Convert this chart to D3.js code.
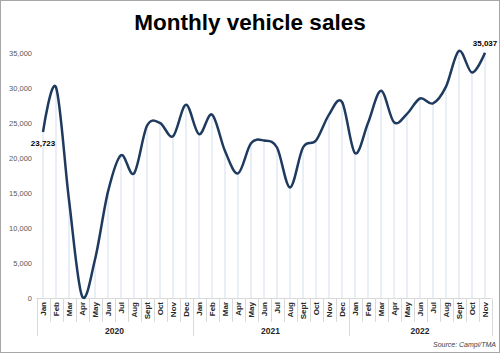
<!DOCTYPE html>
<html>
<head>
<meta charset="utf-8">
<script src="https://cdn.jsdelivr.net/npm/d3@7"></script>
<style>
  body { margin: 0; background: #fff; }
  svg { display: block; font-family: Arial, "Liberation Sans", sans-serif; }
</style>
</head>
<body>
<div id="chart"></div>
<script>
// data
var months = ['Jan', 'Feb', 'Mar', 'Apr', 'May', 'Jun', 'Jul', 'Aug', 'Sept', 'Oct', 'Nov', 'Dec',
  'Jan', 'Feb', 'Mar', 'Apr', 'May', 'Jun', 'Jul', 'Aug', 'Sept', 'Oct', 'Nov', 'Dec',
  'Jan', 'Feb', 'Mar', 'Apr', 'May', 'Jun', 'Jul', 'Aug', 'Sept', 'Oct', 'Nov'];
var sales = [23723, 30100, 14000, 300, 5500, 15200, 20400, 17800, 24600, 25000, 23100, 27600,
  23400, 26200, 21000, 17800, 22100, 22500, 21500, 15800, 21500, 22500, 26200, 28000,
  20700, 25000, 29600, 25100, 26300, 28500, 27800, 30200, 35300, 32200, 35037];
var years = ['2020', '2021', '2022'];
var monthsPerYear = [12, 12, 11];
var yTicks = [0, 5000, 10000, 15000, 20000, 25000, 30000, 35000];

var width = 500, height = 353;

var svg = d3.select('#chart').append('svg')
  .attr('width', width)
  .attr('height', height);

// outer frame
svg.append('rect')
  .attr('x', 0.5).attr('y', 0.5)
  .attr('width', width - 1).attr('height', height - 1)
  .attr('fill', '#fff')
  .attr('stroke', '#a6a6a6');

svg.append('text')
  .attr('x', 250).attr('y', 30)
  .attr('text-anchor', 'middle')
  .style('font-size', '22.5px')
  .style('font-weight', 'bold')
  .text('Monthly vehicle sales');

var x = d3.scaleBand()
  .domain(d3.range(months.length))
  .range([36.5, 491.5])
  .padding(0);

var y = d3.scaleLinear()
  .domain([0, 35000])
  .range([298, 53]);

function cx(i) { return x(i) + x.bandwidth() / 2; }

// y axis, labels only
var yAxis = svg.append('g')
  .attr('transform', 'translate(32,0)')
  .call(d3.axisLeft(y).tickValues(yTicks).tickFormat(d3.format(',')).tickSize(0).tickPadding(0));
yAxis.select('.domain').remove();
yAxis.selectAll('text')
  .style('font-family', 'Arial, "Liberation Sans", sans-serif')
  .style('font-size', '7.5px')
  .attr('fill', '#595959');

// drop lines
svg.append('g').selectAll('line')
  .data(sales)
  .join('line')
  .attr('x1', function(d, i) { return cx(i); })
  .attr('x2', function(d, i) { return cx(i); })
  .attr('y1', function(d) { return y(d); })
  .attr('y2', y(0))
  .attr('stroke', '#d3dfeb')
  .attr('stroke-width', 1);

// category axis box
var axisG = svg.append('g');
axisG.append('line')
  .attr('x1', 36.5).attr('x2', 491.5)
  .attr('y1', 298.5).attr('y2', 298.5)
  .attr('stroke', '#d9d9d9');

var bounds = d3.range(months.length + 1).map(function(i) {
  return i < months.length ? x(i) : x(i - 1) + x.bandwidth();
});
var yearStarts = [0];
monthsPerYear.reduce(function(acc, n) { yearStarts.push(acc + n); return acc + n; }, 0);

axisG.selectAll('.sep')
  .data(bounds)
  .join('line')
  .attr('class', 'sep')
  .attr('x1', function(d) { return Math.round(d) + 0.5; })
  .attr('x2', function(d) { return Math.round(d) + 0.5; })
  .attr('y1', 298.5)
  .attr('y2', function(d, i) { return yearStarts.indexOf(i) >= 0 ? 336 : 322; })
  .attr('stroke', '#d9d9d9');

var xAxis = axisG.append('g')
  .attr('transform', 'translate(0,302)')
  .call(d3.axisBottom(x).tickFormat(function(i) { return months[i]; }).tickSize(0).tickPadding(0));
xAxis.select('.domain').remove();
xAxis.selectAll('text')
  .attr('transform', 'rotate(-90)')
  .attr('x', 0)
  .attr('y', 0)
  .attr('dy', '0.35em')
  .attr('text-anchor', 'end')
  .style('font-family', 'Arial, "Liberation Sans", sans-serif')
  .style('font-size', '8px')
  .style('font-weight', 'bold')
  .attr('fill', '#262626');

axisG.selectAll('.year')
  .data(years)
  .join('text')
  .attr('class', 'year')
  .attr('x', function(d, i) {
    return (bounds[yearStarts[i]] + bounds[yearStarts[i + 1]]) / 2;
  })
  .attr('y', 334)
  .attr('text-anchor', 'middle')
  .style('font-size', '8.5px')
  .style('font-weight', 'bold')
  .attr('fill', '#262626')
  .text(function(d) { return d; });

// line
var line = d3.line()
  .x(function(d, i) { return cx(i); })
  .y(function(d) { return y(d); })
  .curve(d3.curveCardinal.tension(0));

svg.append('path')
  .datum(sales)
  .attr('d', line)
  .attr('fill', 'none')
  .attr('stroke', '#1f3a5f')
  .attr('stroke-width', 2.5)
  .attr('stroke-linejoin', 'round');

// end labels
var fmt = d3.format(',');
var last = sales.length - 1;
svg.append('text')
  .attr('x', cx(0)).attr('y', y(sales[0]) + 14)
  .attr('text-anchor', 'middle')
  .style('font-size', '8px')
  .style('font-weight', 'bold')
  .text(fmt(sales[0]));
svg.append('text')
  .attr('x', cx(last)).attr('y', y(sales[last]) - 7)
  .attr('text-anchor', 'middle')
  .style('font-size', '8px')
  .style('font-weight', 'bold')
  .text(fmt(sales[last]));

svg.append('text')
  .attr('x', 496).attr('y', 347)
  .attr('text-anchor', 'end')
  .style('font-size', '7px')
  .style('font-style', 'italic')
  .attr('fill', '#404040')
  .text('Source: Campi/TMA');
</script>
</body>
</html>
